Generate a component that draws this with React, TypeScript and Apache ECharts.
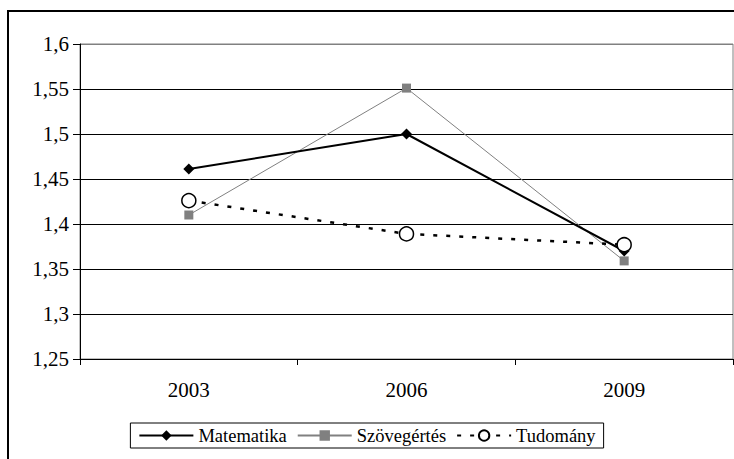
import React, { useEffect, useRef } from "react";
import * as echarts from "echarts";

const years = ["2003", "2006", "2009"];
const matematika = [1.461, 1.5, 1.37];
const szovegertes = [1.41, 1.551, 1.359];
const tudomany = [1.426, 1.389, 1.377];

const FONT = "Liberation Serif";

export default function App() {
  const ref = useRef<HTMLDivElement>(null);
  useEffect(() => {
    document.body.style.margin = "0";
    const chart = echarts.init(ref.current!, null, { renderer: "svg" });
    chart.setOption({
      animation: false,
      backgroundColor: "#fff",
      graphic: [
        {
          type: "rect",
          shape: { x: 8, y: 11, width: 800, height: 500 },
          style: { fill: "none", stroke: "#000", lineWidth: 2 },
          silent: true,
        },
      ],
      grid: {
        left: 80,
        top: 44,
        right: 1,
        bottom: 100,
        show: true,
        borderColor: "#808080",
        borderWidth: 1,
      },
      legend: {
        left: "center",
        top: 423,
        padding: [3, 8, 3, 8],
        borderColor: "#000",
        borderWidth: 1,
        itemWidth: 54,
        itemHeight: 13,
        itemGap: 10,
        textStyle: { fontSize: 18.5, fontFamily: FONT, color: "#000" },
        data: ["Matematika", "Szövegértés", "Tudomány"],
      },
      xAxis: {
        type: "category",
        data: years,
        boundaryGap: true,
        axisLine: { lineStyle: { color: "#000", width: 1 } },
        axisTick: { show: true, length: 6, inside: false, lineStyle: { color: "#000" } },
        axisLabel: { fontSize: 21, fontFamily: FONT, color: "#000", margin: 20 },
        splitLine: { show: false },
      },
      yAxis: {
        type: "value",
        min: 1.25,
        max: 1.6,
        interval: 0.05,
        axisLine: { show: true, lineStyle: { color: "#000", width: 1 } },
        axisTick: { show: true, length: 7, inside: false, lineStyle: { color: "#000" } },
        axisLabel: {
          fontSize: 21,
          fontFamily: FONT,
          color: "#000",
          margin: 11,
          formatter: (v: number) => String(Math.round(v * 100) / 100).replace(".", ","),
        },
        splitLine: {
          show: true,
          lineStyle: {
            color: ["#000", "#000", "#000", "#000", "#000", "#000", "#000", "#808080"],
            width: 1,
          },
        },
      },
      series: [
        {
          name: "Matematika",
          type: "line",
          data: matematika,
          symbol: "diamond",
          symbolSize: 11,
          lineStyle: { color: "#000", width: 2 },
          itemStyle: { color: "#000" },
          z: 3,
        },
        {
          name: "Szövegértés",
          type: "line",
          data: szovegertes,
          symbol: "rect",
          symbolSize: 9,
          lineStyle: { color: "#808080", width: 1 },
          itemStyle: { color: "#808080" },
          z: 2,
        },
        {
          name: "Tudomány",
          type: "line",
          data: tudomany,
          symbol: "circle",
          symbolSize: 14,
          lineStyle: { color: "#000", width: 2.5, type: [4, 9] },
          itemStyle: { color: "#fff", borderColor: "#000", borderWidth: 1.5 },
          z: 4,
        },
      ],
    });
    return () => chart.dispose();
  }, []);
  return <div ref={ref} style={{ width: 734, height: 459 }} />;
}
